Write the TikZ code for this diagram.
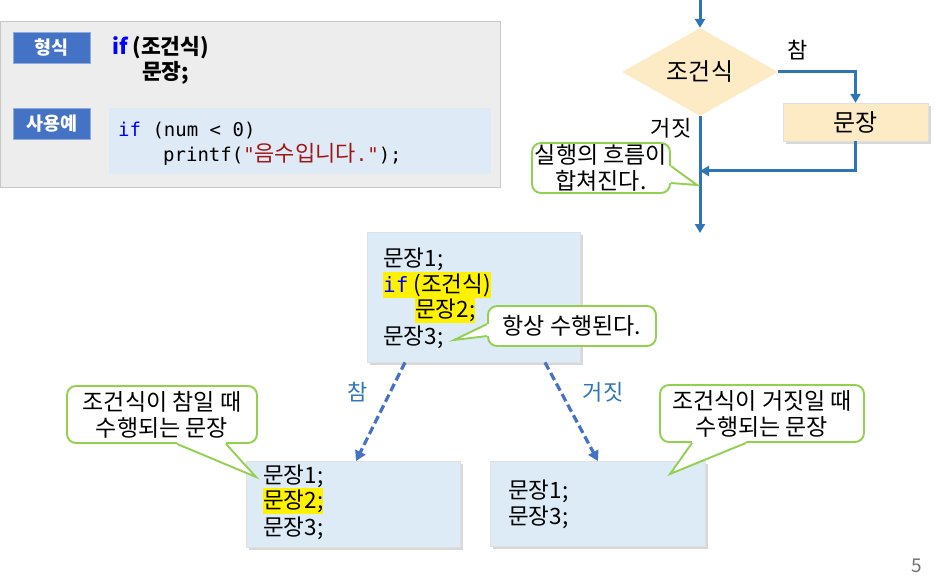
\documentclass[tikz,border=0pt]{standalone}
\usepackage{fontspec}
\setmainfont{Noto Sans CJK KR}
\newfontfamily\cjk{Noto Sans CJK KR}
\newfontfamily\mono{DejaVu Sans Mono}
\usetikzlibrary{shapes.geometric,shadows,arrows.meta,calc}
\definecolor{flowblue}{HTML}{2E75B6}
\definecolor{dashblue}{HTML}{4472C4}
\definecolor{lblblue}{HTML}{4472C4}
\definecolor{boxblue}{HTML}{DDEBF7}
\definecolor{codeblue}{HTML}{DEEAF6}
\definecolor{panelgray}{HTML}{EDEDED}
\definecolor{tan}{HTML}{FCEBC4}
\definecolor{tipgreen}{HTML}{92D050}
\definecolor{strred}{HTML}{A31515}
\definecolor{kwblue}{HTML}{0000FF}
\tikzset{
  flow/.style={draw=flowblue, line width=3pt, -{Triangle[length=9pt,width=10pt]}},
  dasharrow/.style={draw=dashblue, line width=3.2pt, dash pattern=on 8pt off 4pt, -{Triangle[length=10pt,width=11pt]}},
  sbox/.style={fill=boxblue, draw=black!12, line width=0.4pt, anchor=north west, inner sep=0pt,
    drop shadow={shadow xshift=3pt, shadow yshift=-3pt, fill=black!30}},
  tipbox/.style={rectangle, draw=tipgreen, line width=1.9pt, fill=white, rounded corners=9pt,
    align=center, inner sep=0pt, font=\fontsize{23}{26}\selectfont},
  tipfill/.style={fill=white},
  tipline/.style={draw=tipgreen, line width=1.9pt, line join=miter},
  lbl/.style={fill=lblblue, draw=lblblue!60, line width=0.6pt, anchor=north west, inner sep=0pt,
    text=white, font=\fontsize{18.5}{20}\selectfont\bfseries, minimum width=77pt, minimum height=31pt},
  txt/.style={anchor=base west, inner sep=0pt, font=\fontsize{22.5}{26}\selectfont},
  hl/.style={txt, fill=yellow, inner ysep=1.5pt},
  codetxt/.style={anchor=base west, inner sep=0pt, font=\fontsize{19}{22}\selectfont\mono},
  flabel/.style={font=\fontsize{22}{24}\selectfont},
}
\begin{document}
\begin{tikzpicture}[x=1pt,y=-1pt]
\useasboundingbox (0,0) rectangle (936,588);
% ---------- top-left panel ----------
\node[fill=panelgray, draw=black!22, line width=0.6pt, anchor=north west, inner sep=0pt,
      minimum width=500pt, minimum height=166pt] (panel) at (0,21) {};
\node[lbl] (form) at (13,32) {형식};
\node[lbl] (use) at (13,108) {사용예};
\node[anchor=base west, inner sep=0pt, font=\fontsize{21.5}{24}\selectfont\bfseries] (f1) at (112,55)
  {\textcolor{kwblue}{if} (조건식)};
\node[anchor=base west, inner sep=0pt, font=\fontsize{21.5}{24}\selectfont\bfseries] (f2) at (142,80) {문장;};
\node[fill=codeblue, anchor=north west, inner sep=0pt, minimum width=382pt, minimum height=66pt]
  (code) at (109,108) {};
\node[codetxt] (c1) at (118,137) {\textcolor{kwblue}{if} (num < 0)};
\node[codetxt] (c2) at (163,162)
  {printf(\textcolor{strred}{"{\cjk\fontsize{22}{22}\selectfont 음수입니다}."});};
% ---------- flowchart ----------
\coordinate (ftop) at (700,0);
\node[diamond, fill=tan, inner sep=0pt, minimum width=156pt, minimum height=60pt,
      font=\fontsize{24}{26}\selectfont] (cond) at (700,72) {조건식};
\node[fill=tan, draw=black!12, line width=0.4pt, inner sep=0pt, minimum width=145pt, minimum height=38pt,
      drop shadow={shadow xshift=3pt, shadow yshift=-3pt, fill=black!30},
      font=\fontsize{24}{26}\selectfont] (stmt) at (855.5,122) {문장};
\coordinate (merge) at (700,171);
\coordinate (fbot) at (700,233);
\draw[flow] (ftop) -- (cond.north);
\draw[flow] (cond.east) -| (stmt.north);
\draw[flow] (stmt.south) |- (merge);
\draw[flow] (cond.south) -- (fbot);
\node[flabel] (tlab) at (798,50) {참};
\node[flabel] (flab) at (671,128) {거짓};
% callout: merge
\node[tipbox, minimum width=138pt, minimum height=50pt] (mtip) at (601,168) {실행의 흐름이\\합쳐진다.};
\coordinate (mpt) at (697,185);
\coordinate (mb1) at ($(mtip.north east)+(0,24)$);
\coordinate (mb2) at ($(mtip.north east)+(0,41)$);
\fill[tipfill] (mb1) -- (mpt) -- (mb2) -- ($(mb2)+(-4,0)$) -- ($(mb1)+(-4,0)$) -- cycle;
\draw[tipline] (mb1) -- (mpt) -- (mb2);
% ---------- middle box ----------
\node[sbox, minimum width=213pt, minimum height=130pt] (mid) at (367,232) {};
\node[txt] (m1) at (383,266) {문장1;};
\node[hl] (m2) at (383,292) {{\mono\fontsize{21}{26}\selectfont\textcolor{kwblue}{if}} (조건식)};
\node[hl] (m3) at (415,317) {문장2;};
\node[txt] (m4) at (383,344) {문장3;};
\node[tipbox, minimum width=168pt, minimum height=40pt] (atip) at (572,326) {항상 수행된다.};
\coordinate (apt) at (454,340);
\coordinate (ab1) at ($(atip.north west)+(0,19)$);
\coordinate (ab2) at ($(atip.north west)+(0,31)$);
\fill[tipfill] (ab1) -- (apt) -- (ab2) -- ($(ab2)+(4,0)$) -- ($(ab1)+(4,0)$) -- cycle;
\draw[tipline] (ab1) -- (apt) -- (ab2);
% ---------- bottom boxes ----------
\node[sbox, minimum width=214pt, minimum height=86pt] (lbox) at (246,461) {};
\node[txt] (l1) at (263,483) {문장1;};
\node[hl] (l2) at (263,508) {문장2;};
\node[txt] (l3) at (263,535) {문장3;};
\node[sbox, minimum width=215pt, minimum height=85pt] (rbox) at (490,461) {};
\node[txt] (r1) at (508,498) {문장1;};
\node[txt] (r3) at (508,524) {문장3;};
\draw[dasharrow] ($(mid.south west)+(38,0)$) -- ($(lbox.north west)+(110,0)$);
\draw[dasharrow] ($(mid.south west)+(178,0)$) -- ($(rbox.north west)+(108,0)$);
\node[flabel, text=flowblue] (tl) at (358,392) {참};
\node[flabel, text=flowblue] (fl) at (603,392) {거짓};
% callout: left
\node[tipbox, minimum width=190pt, minimum height=57pt] (ltip) at (162,414.5) {조건식이 참일 때\\수행되는 문장};
\coordinate (lpt) at (256,477);
\coordinate (lb1) at ($(ltip.south west)+(111,0)$);
\coordinate (lb2) at ($(ltip.south west)+(160,0)$);
\fill[tipfill] (lb1) -- (lpt) -- (lb2) -- ($(lb2)+(0,-4)$) -- ($(lb1)+(0,-4)$) -- cycle;
\draw[tipline] (lb1) -- (lpt) -- (lb2);
% callout: right
\node[tipbox, minimum width=204pt, minimum height=57pt] (rtip) at (762,413.5) {조건식이 거짓일 때\\수행되는 문장};
\coordinate (rpt) at (670,474);
\coordinate (rb1) at ($(rtip.south west)+(33,0)$);
\coordinate (rb2) at ($(rtip.south west)+(87,0)$);
\fill[tipfill] (rb1) -- (rpt) -- (rb2) -- ($(rb2)+(0,-4)$) -- ($(rb1)+(0,-4)$) -- cycle;
\draw[tipline] (rb1) -- (rpt) -- (rb2);
\node[text=black!55, font=\fontsize{19}{22}\selectfont] (pg) at (917,566) {5};
\end{tikzpicture}
\end{document}
